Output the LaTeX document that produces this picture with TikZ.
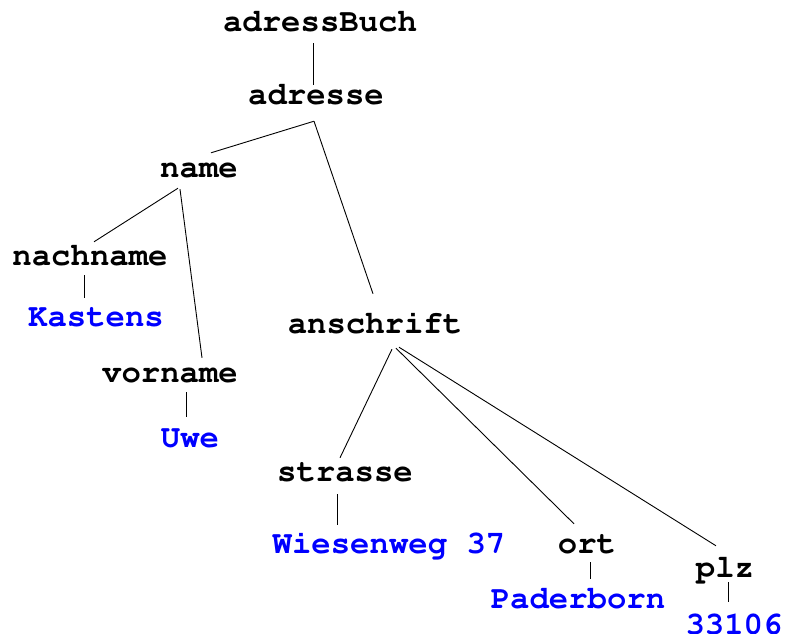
\documentclass[tikz,border=0pt]{standalone}
\usepackage[T1]{fontenc}
\usepackage{tikz}
\usetikzlibrary{positioning, calc}

\begin{document}
\begin{tikzpicture}[x=1pt,y=-1pt,
  knoten/.style={anchor=base,inner sep=0pt,text height=19pt,text depth=0pt,
    font=\fontfamily{pcr}\bfseries\fontsize{32.3}{34}\selectfont},
  wert/.style={knoten,text=blue},
  kante/.style={line width=0.9pt}]
\useasboundingbox (0,0) rectangle (796,634);

\node[knoten] (aBuch) at (320,32) {adressBuch};
\node[knoten] (adr) at (316,105) {adresse};
\node[knoten] (nam) at (199,177) {name};
\node[knoten] (nach) at (90,265) {nachname};
\node[wert] (kast) at (96,326) {Kastens};
\node[knoten] (vor) at (170,382) {vorname};
\node[wert] (uwe) at (190,447) {Uwe};
\node[knoten] (ansch) at (375,333) {anschrift};
\node[knoten] (str) at (345,481) {strasse};
\node[wert] (wies) at (389,553) {Wiesenweg 37};
\node[knoten] (ort) at (587,553) {ort};
\node[wert] (pad) at (578,608) {Paderborn};
\node[knoten] (plz) at (725,577) {plz};
\node[wert] (plzW) at (734,634) {33106};

\draw[kante] ([xshift=-7pt,yshift=-11pt]aBuch.south) -- ([xshift=-3pt,yshift=1pt]adr.north);
\draw[kante] ([xshift=-2pt,yshift=-16pt]adr.south) -- ([xshift=12pt,yshift=5pt]nam.north);
\draw[kante] ([xshift=-2pt,yshift=-16pt]adr.south) -- ([xshift=-2pt,yshift=20pt]ansch.north);
\draw[kante] ([xshift=-21pt,yshift=-11pt]nam.south) -- ([xshift=4pt,yshift=4pt]nach.north);
\draw[kante] ([xshift=-19pt,yshift=-12pt]nam.south) -- ([xshift=32pt,yshift=5pt]vor.north);
\draw[kante] ([xshift=-6pt,yshift=-10pt]nach.south) -- ([xshift=-12pt,yshift=9pt]kast.north);
\draw[kante] ([xshift=16pt,yshift=-10pt]vor.south) -- ([xshift=-4pt,yshift=11pt]uwe.north);
\draw[kante] ([xshift=17pt,yshift=-16pt]ansch.south) -- ([xshift=-5pt,yshift=4pt]str.north);
\draw[kante] ([xshift=21pt,yshift=-15pt]ansch.south) -- ([xshift=-13pt,yshift=10pt]ort.north);
\draw[kante] ([xshift=24pt,yshift=-14pt]ansch.south) -- ([xshift=-9pt,yshift=12pt]plz.north);
\draw[kante] ([xshift=-8pt,yshift=-13pt]str.south) -- ([xshift=-52pt,yshift=9pt]wies.north);
\draw[kante] ([xshift=3pt,yshift=-9pt]ort.south) -- ([xshift=12pt,yshift=10pt]pad.north);
\draw[kante] ([xshift=3pt,yshift=-5pt]plz.south) -- ([xshift=-6pt,yshift=13pt]plzW.north);
\end{tikzpicture}
\end{document}
